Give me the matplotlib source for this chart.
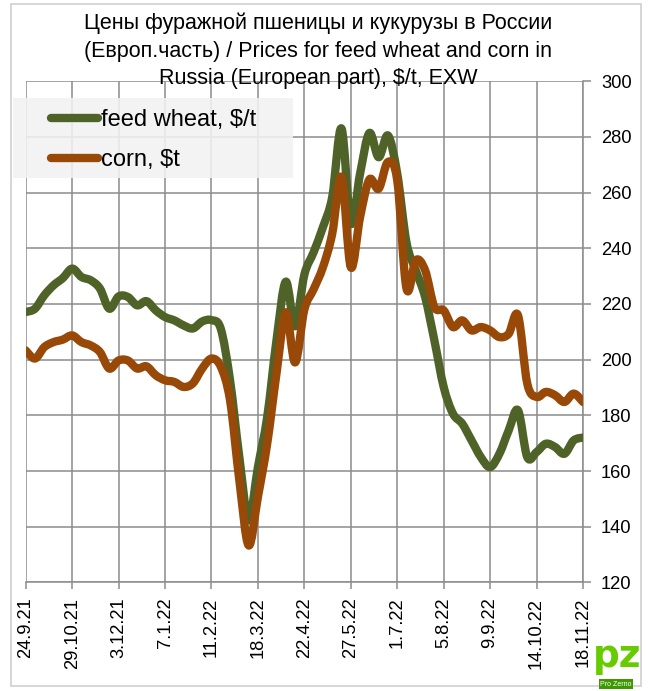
import matplotlib
matplotlib.use("Agg")
import matplotlib.pyplot as plt
from matplotlib.path import Path
from matplotlib.patches import PathPatch, Rectangle
from matplotlib.lines import Line2D
import numpy as np

# ---------------- data ----------------
tick_labels = ['24.9.21', '29.10.21', '3.12.21', '7.1.22', '11.2.22', '18.3.22',
               '22.4.22', '27.5.22', '1.7.22', '5.8.22', '9.9.22', '14.10.22', '18.11.22']
tick_step = 5  # weeks between labelled dates

wheat = [217.1, 218.3, 223.1, 226.7, 229.3, 232.7, 229.7, 228.5, 225.5, 218.3,
         222.7, 222.5, 219.5, 221.0, 217.7, 215.3, 214.1, 212.3, 211.2, 213.7,
         214.2, 211.1, 192.6, 165.0, 142.3, 161.4, 179.4, 206.9, 228.0, 212.0,
         230.5, 238.6, 247.6, 258.4, 283.0, 249.0, 266.8, 281.4, 272.7, 280.5,
         266.8, 242.0, 232.0, 222.5, 206.9, 190.2, 180.6, 177.0, 171.0, 165.0,
         161.4, 166.2, 174.6, 181.8, 165.0, 166.8, 169.8, 168.6, 166.2, 171.0, 172.0]

corn = [203.3, 200.4, 204.5, 206.3, 207.2, 208.7, 206.3, 205.1, 202.7, 196.8,
        199.7, 199.7, 196.8, 197.6, 194.4, 192.6, 192.0, 190.2, 191.5, 196.8,
        200.4, 197.5, 185.4, 156.7, 133.3, 150.7, 169.8, 195.0, 217.0, 199.0,
        218.0, 225.3, 233.2, 245.2, 265.6, 233.2, 251.2, 264.7, 261.4, 271.0,
        264.4, 225.5, 235.7, 232.1, 218.9, 217.7, 211.7, 214.1, 210.5, 211.7,
        210.5, 208.1, 209.3, 215.9, 191.4, 186.6, 188.4, 187.2, 184.8, 187.8, 184.8]

series_names = ['feed wheat, $/t', 'corn, $t']
series_colors = ['#4F6228', '#984807']

title = ("Цены фуражной пшеницы и кукурузы в России\n"
         "(Европ.часть) / Prices for feed wheat and corn in\n"
         "Russia (European part), $/t, EXW")

FONT = ['Liberation Sans', 'DejaVu Sans']
plt.rcParams['font.family'] = FONT


def smooth_path(x, y):
    """Excel-like smoothed line: Catmull-Rom segments as cubic Bezier curves."""
    pts = np.column_stack([x, y]).astype(float)
    n = len(pts)
    verts = [pts[0]]
    codes = [Path.MOVETO]
    for i in range(n - 1):
        p0 = pts[i - 1] if i > 0 else pts[i]
        p1 = pts[i]
        p2 = pts[i + 1]
        p3 = pts[i + 2] if i + 2 < n else pts[i + 1]
        c1 = p1 + (p2 - p0) / 6.0
        c2 = p2 - (p3 - p1) / 6.0
        verts += [c1, c2, p2]
        codes += [Path.CURVE4] * 3
    return Path(verts, codes)


W, H = 648, 691
fig = plt.figure(figsize=(W / 100, H / 100), dpi=100)

left, right, top, bottom = 25.7, 583.0, 81.2, 582.4
ax = fig.add_axes([left / W, 1 - bottom / H, (right - left) / W, (bottom - top) / H])

n = len(wheat)
x = np.arange(n)
for vals, col in zip([wheat, corn], series_colors):
    patch = PathPatch(smooth_path(x, vals), facecolor='none', edgecolor=col,
                      lw=6.0, capstyle='round', joinstyle='round', zorder=3)
    ax.add_patch(patch)

ax.set_xlim(0, n - 1)
ax.set_ylim(120, 300)
ax.set_yticks(np.arange(120, 301, 20))
ax.set_xticks(np.arange(0, n, tick_step))
ax.set_xticklabels(tick_labels, rotation=90, fontsize=13.2)
ax.yaxis.tick_right()
ax.tick_params(axis='y', which='both', direction='out', length=6, width=1.1,
               color='#8c8c8c', labelsize=13.2, pad=7, left=False)
ax.tick_params(axis='x', direction='out', length=5, width=1.1, color='#8c8c8c', pad=6)
ax.grid(True, color='#8c8c8c', lw=1.1)
ax.set_axisbelow(True)
for s in ['top', 'left']:
    ax.spines[s].set_visible(False)
for s in ['bottom', 'right']:
    ax.spines[s].set_color('#8c8c8c')
    ax.spines[s].set_linewidth(1.1)

# title
fig.text(318 / W, 1 - 13 / H, title, ha='center', va='top', fontsize=15.5,
         linespacing=1.4, color='#000000')

# legend with light semi-transparent background
fig.patches.append(Rectangle((13 / W, 1 - 178 / H), 280 / W, 80 / H,
                             transform=fig.transFigure, facecolor='#f2f2f2',
                             edgecolor='none', alpha=0.88, zorder=2))
handles = [Line2D([], [], color=c, lw=6.0, solid_capstyle='round') for c in series_colors]
leg = fig.legend(handles, series_names, loc='upper left',
                 bbox_to_anchor=(51 / W, 1 - 109 / H), frameon=False,
                 fontsize=17, handlelength=2.0, handletextpad=0.12,
                 labelspacing=0.77, borderpad=0.0, borderaxespad=0.0)
leg.set_zorder(3)

# outer border
fig.patches.append(Rectangle((11 / W, 1 - 686 / H), 630 / W, 682 / H,
                             transform=fig.transFigure, facecolor='none',
                             edgecolor='#d0d0d0', lw=1.2, zorder=1))

# logo (ProZerno)
fig.text(617 / W, 1 - 657 / H, 'pz', ha='center', va='center', fontsize=27,
         fontweight='bold', color='#66cc00', family=['DejaVu Sans'], zorder=5)
fig.text(616 / W, 1 - 684 / H, 'Pro Zerno', ha='center', va='center', fontsize=5,
         color='white', zorder=6,
         bbox=dict(boxstyle='square,pad=0.15', facecolor='#3c9a00', edgecolor='none'))

fig.savefig('out.png', dpi=100)
